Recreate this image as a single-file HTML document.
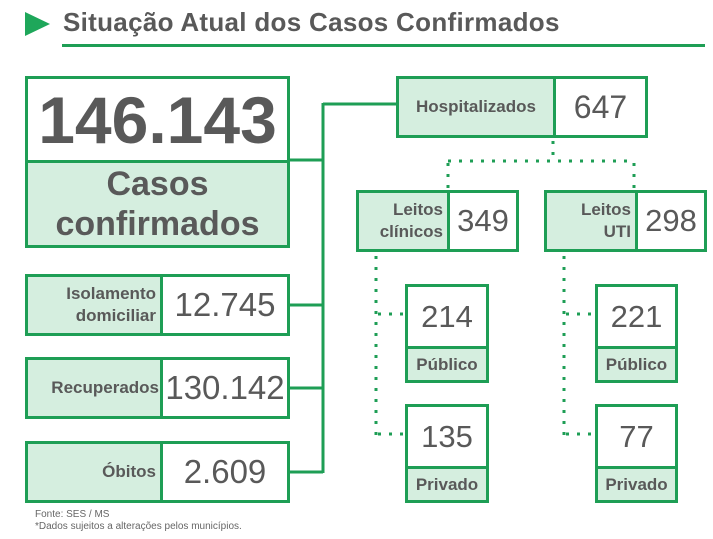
<!DOCTYPE html>
<html><head><meta charset="utf-8"><style>
body{margin:0;width:713px;height:539px;background:#fff;position:relative;overflow:hidden;font-family:"Liberation Sans",Arial,sans-serif;color:#595959}
.b{position:absolute;box-sizing:border-box;border:3px solid #1e9e55;display:flex;align-items:center;justify-content:center;text-align:center}
.g{background:#d5eedf}
.lb{font-weight:bold;font-size:17px;line-height:22px;justify-content:flex-end;text-align:right;padding-right:4px}
.v{font-size:33px}
.sv{font-size:31px}
svg{position:absolute;left:0;top:0}
</style></head><body>
<svg width="713" height="539">
<polygon points="25,12 25,36 50,24" fill="#1ea75a"/>
<rect x="62" y="44" width="643" height="3" fill="#1e9e55"/>
<g stroke="#1e9e55" stroke-width="3" fill="none">
<polyline points="290,160 323,160"/>
<polyline points="323,104 398,104"/>
<line x1="323" y1="103" x2="323" y2="473"/>
<line x1="290" y1="305" x2="323" y2="305"/>
<line x1="290" y1="388" x2="323" y2="388"/>
<line x1="290" y1="472" x2="323" y2="472"/>
</g>
<g stroke="#1e9e55" stroke-width="3" fill="none" stroke-dasharray="3,8">
<line x1="553" y1="141" x2="553" y2="160"/>
<line x1="448" y1="161" x2="634" y2="161"/>
<line x1="448" y1="163" x2="448" y2="190"/>
<line x1="634" y1="163" x2="634" y2="190"/>
<line x1="376" y1="256" x2="376" y2="436"/>
<line x1="378" y1="314" x2="405" y2="314"/>
<line x1="378" y1="434" x2="405" y2="434"/>
<line x1="564" y1="256" x2="564" y2="436"/>
<line x1="566" y1="314" x2="595" y2="314"/>
<line x1="566" y1="434" x2="595" y2="434"/>
</g>
</svg>
<div style="position:absolute;left:63px;top:7px;font-size:26px;font-weight:bold;color:#595959;letter-spacing:0.3px">Situação Atual dos Casos Confirmados</div>

<div class="b" style="left:25px;top:76px;width:265px;height:87px;font-size:66px;font-weight:bold">146.143</div>
<div class="b g" style="left:25px;top:160px;width:265px;height:88px;font-size:34px;font-weight:bold;line-height:40px">Casos<br>confirmados</div>

<div class="b g lb" style="left:25px;top:274px;width:138px;height:62px">Isolamento<br>domiciliar</div>
<div class="b v" style="left:160px;top:274px;width:130px;height:62px">12.745</div>
<div class="b g lb" style="left:25px;top:357px;width:138px;height:62px;padding-right:1px">Recuperados</div>
<div class="b v" style="left:160px;top:357px;width:130px;height:62px">130.142</div>
<div class="b g lb" style="left:25px;top:441px;width:138px;height:62px">Óbitos</div>
<div class="b v" style="left:160px;top:441px;width:130px;height:62px">2.609</div>

<div class="b g lb" style="left:396px;top:76px;width:160px;height:62px;justify-content:center;padding:0">Hospitalizados</div>
<div class="b sv" style="left:553px;top:76px;width:95px;height:62px;font-size:32px">647</div>

<div class="b g lb" style="left:356px;top:190px;width:94px;height:62px">Leitos<br>clínicos</div>
<div class="b sv" style="left:447px;top:190px;width:72px;height:62px">349</div>
<div class="b g lb" style="left:544px;top:190px;width:94px;height:62px">Leitos<br>UTI</div>
<div class="b sv" style="left:635px;top:190px;width:72px;height:62px">298</div>

<div class="b sv" style="left:405px;top:284px;width:84px;height:65px">214</div>
<div class="b g" style="left:405px;top:346px;width:84px;height:37px;font-weight:bold;font-size:17px">Público</div>
<div class="b sv" style="left:405px;top:404px;width:84px;height:65px">135</div>
<div class="b g" style="left:405px;top:466px;width:84px;height:37px;font-weight:bold;font-size:17px">Privado</div>
<div class="b sv" style="left:595px;top:284px;width:83px;height:65px">221</div>
<div class="b g" style="left:595px;top:346px;width:83px;height:37px;font-weight:bold;font-size:17px">Público</div>
<div class="b sv" style="left:595px;top:404px;width:83px;height:65px">77</div>
<div class="b g" style="left:595px;top:466px;width:83px;height:37px;font-weight:bold;font-size:17px">Privado</div>

<div style="position:absolute;left:35px;top:509px;font-size:10px;line-height:12px;color:#666">Fonte: SES / MS<br>*Dados sujeitos a alterações pelos municípios.</div>
</body></html>
